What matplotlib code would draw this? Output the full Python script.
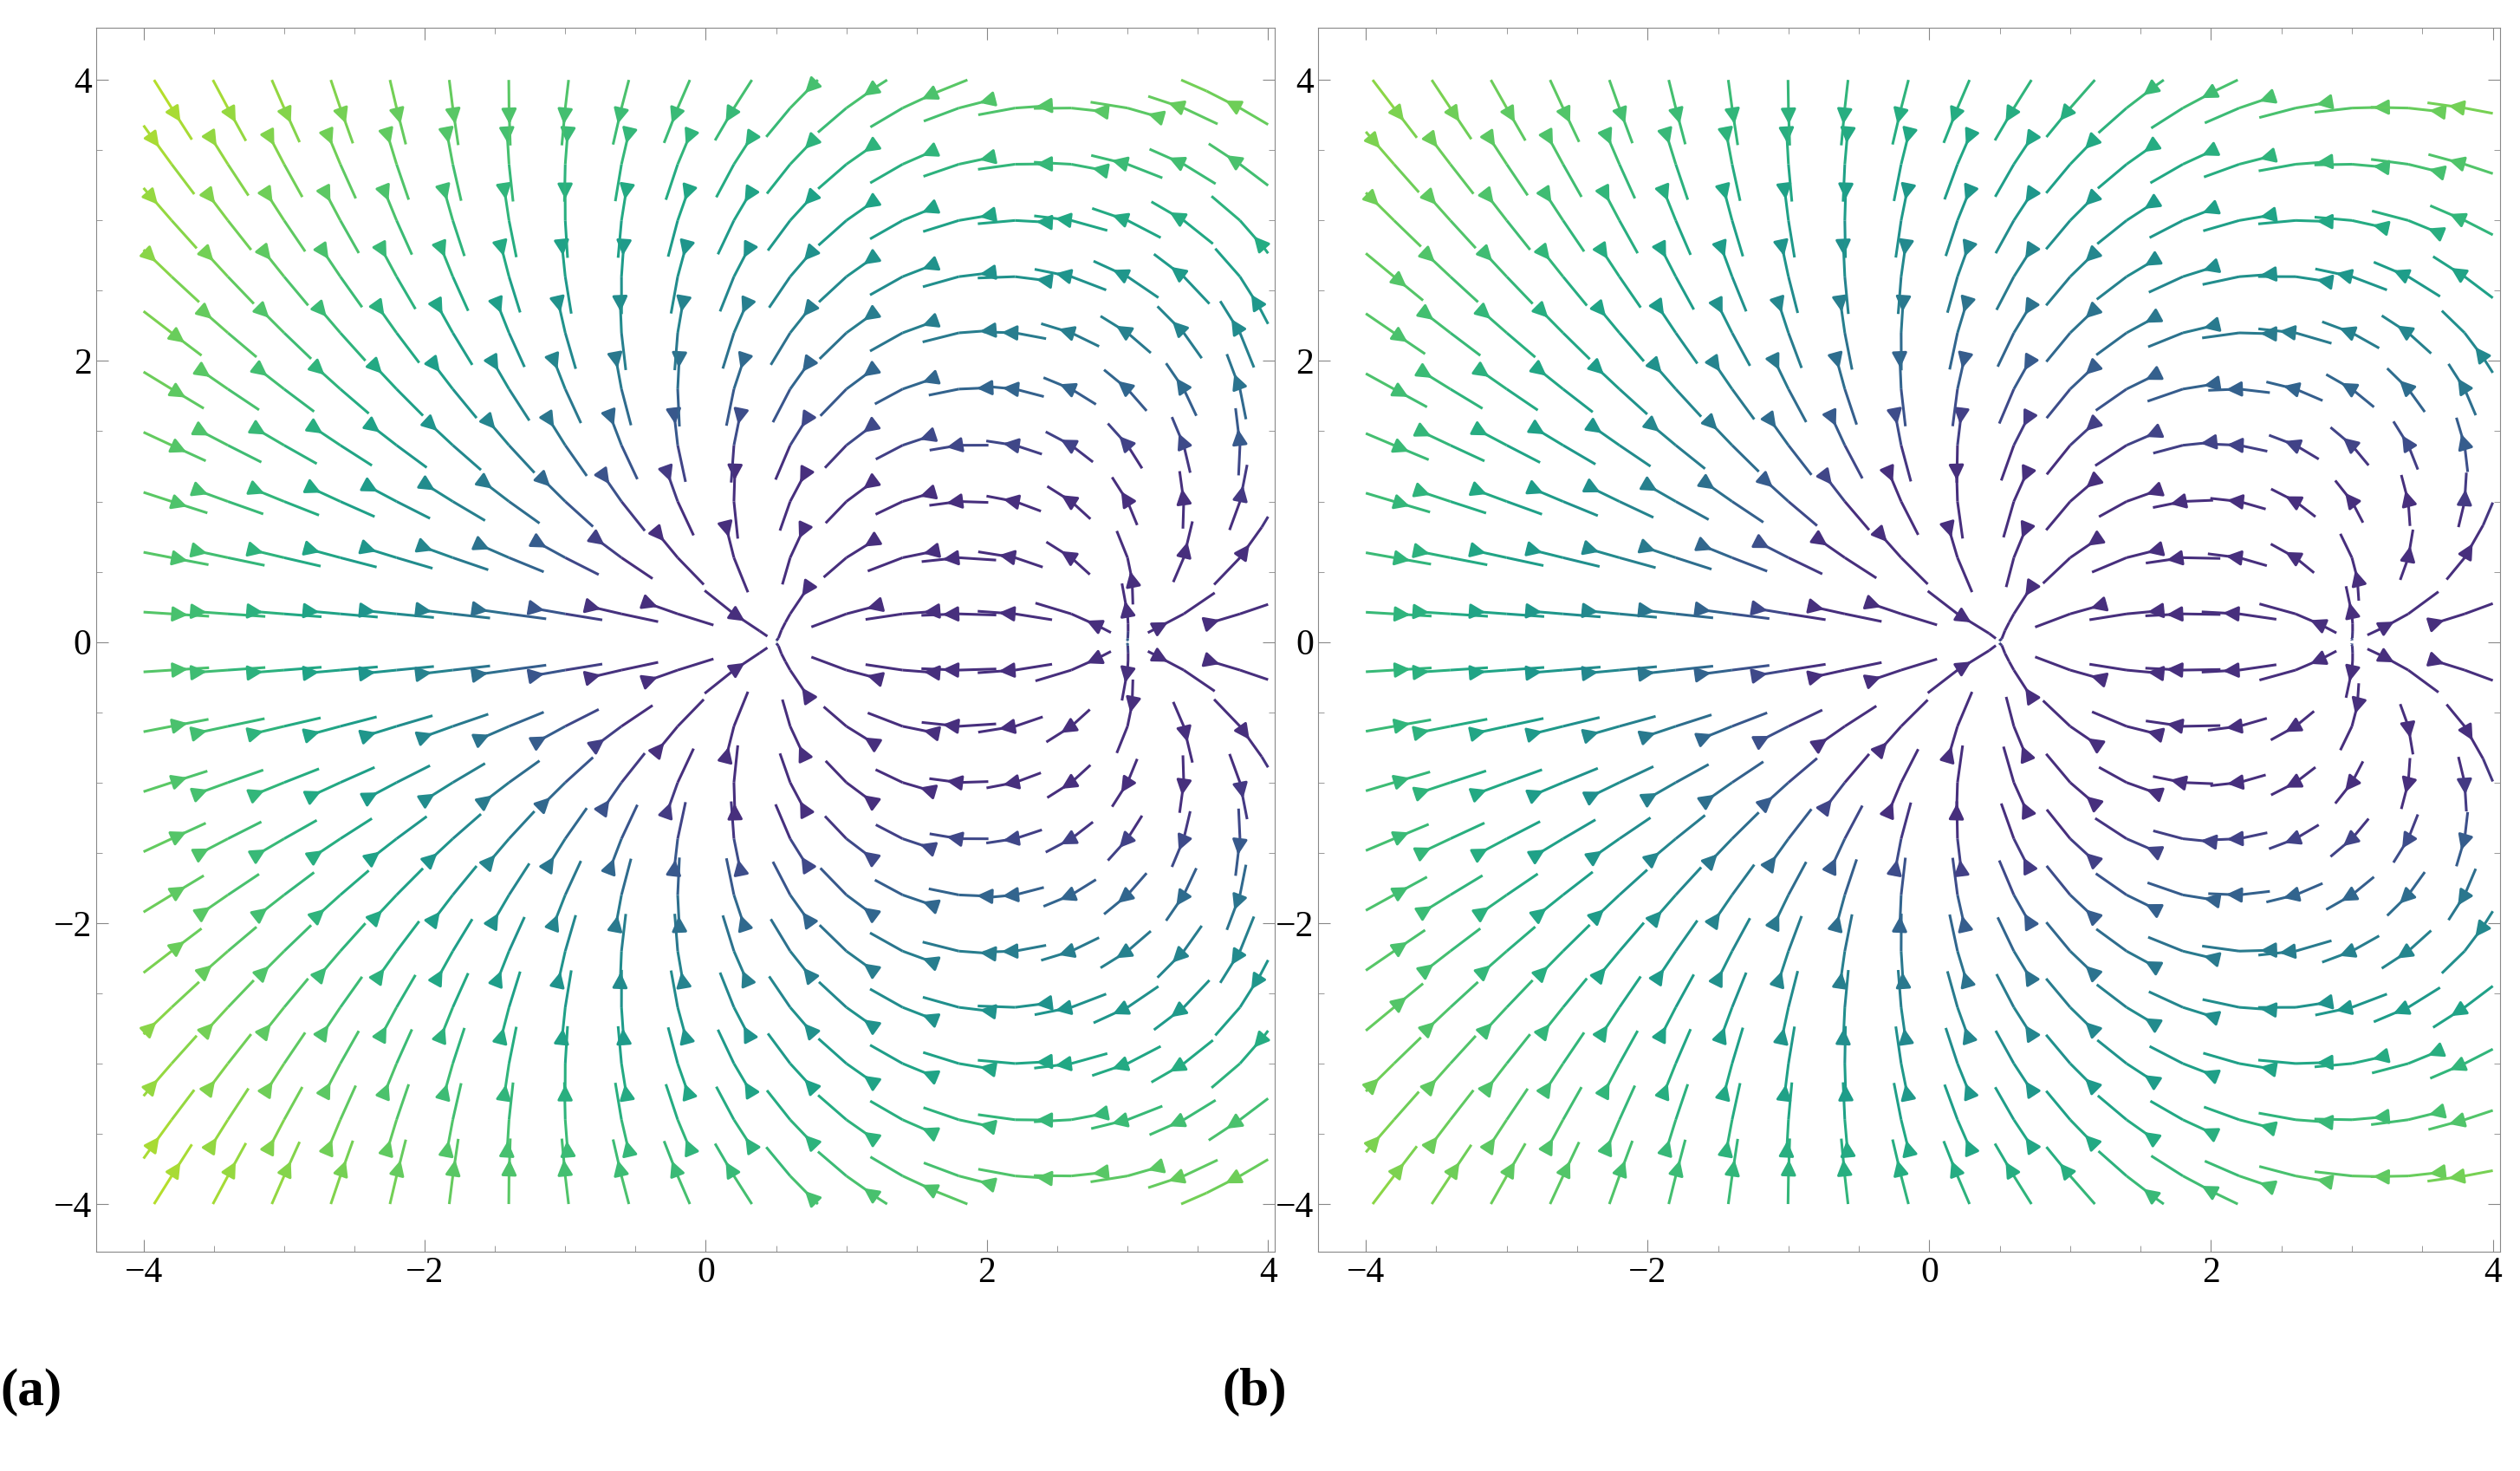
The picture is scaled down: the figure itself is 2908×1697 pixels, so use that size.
import numpy as np
import matplotlib
matplotlib.use("Agg")
import matplotlib.pyplot as plt
from matplotlib.ticker import MultipleLocator

plt.rcParams['font.family'] = ['Liberation Serif', 'DejaVu Serif']

source_x = 3.0
sink_x = 0.5
charges_a = [1.0, -1.25]
charges_b = [1.0, -1.5]
ticks = [-4, -2, 0, 2, 4]
panel_labels = ['(a)', '(b)']

fig = plt.figure(figsize=(29.08, 16.97), dpi=100)
axes = [fig.add_axes([0.038, 0.149, 0.468, 0.832]),
        fig.add_axes([0.523, 0.149, 0.469, 0.832])]

x = np.linspace(-4, 4, 241)
y = np.linspace(-4, 4, 241)
X, Y = np.meshgrid(x, y)

gx = np.arange(-3.8, 3.81, 0.4)
SX, SY = np.meshgrid(gx, gx)
starts = np.column_stack([SX.ravel(), SY.ravel()])

def field(qs, qk, p):
    U = np.zeros_like(X); V = np.zeros_like(Y)
    for q, cx in ((qs, source_x), (qk, sink_x)):
        dx = X - cx; dy = Y
        rp = (dx**2 + dy**2 + 1e-6)**(p/2)
        U += q*dx/rp; V += q*dy/rp
    return U, V

norm = plt.Normalize(-4.4, 0.1)
for ax, (qs, qk), lab in zip(axes, [charges_a, charges_b], panel_labels):
    U, V = field(qs, qk, 2)
    U3, V3 = field(qs, qk, 3)
    C = np.clip(np.log(np.hypot(U3, V3)), -10, -0.5)
    for sp in starts:
        try:
            ax.streamplot(X, Y, U, V, color=C, cmap='viridis_r', start_points=[sp],
                          linewidth=2.2, arrowsize=2.6, arrowstyle='-|>',
                          maxlength=0.085, minlength=0.001,
                          broken_streamlines=False, integration_direction='both',
                          norm=norm)
        except Exception:
            pass
    ax.set_xlim(-4.34, 4.05)
    ax.set_ylim(-4.34, 4.37)
    ax.set_xticks(ticks); ax.set_yticks(ticks)
    ax.set_xticklabels([str(t).replace('-', '\u2212') for t in ticks])
    ax.set_yticklabels([str(t).replace('-', '\u2212') for t in ticks])
    ax.xaxis.set_minor_locator(MultipleLocator(0.5))
    ax.yaxis.set_minor_locator(MultipleLocator(0.5))
    ax.tick_params(which='both', direction='in', top=True, right=True, labelsize=30, color='#888888')
    ax.tick_params(which='major', length=10)
    ax.tick_params(which='minor', length=5)
    for s in ax.spines.values():
        s.set_color('#888888')

fig.text(0.0, 0.045, '(a)', fontsize=44, fontweight='bold', ha='left')
fig.text(0.485, 0.045, '(b)', fontsize=44, fontweight='bold', ha='left')
fig.savefig('out.png', dpi=100)
